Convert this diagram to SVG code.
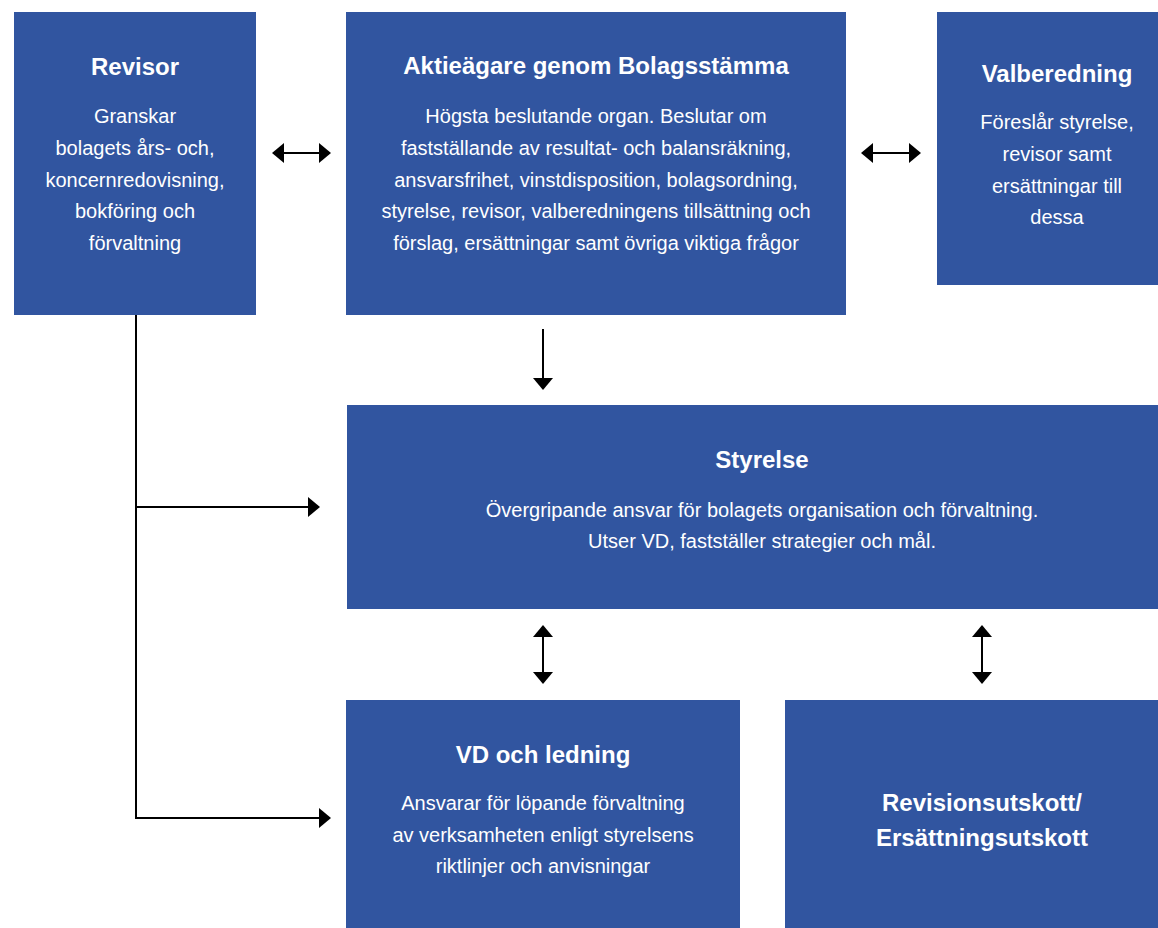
<svg xmlns="http://www.w3.org/2000/svg" width="1158" height="928" viewBox="0 0 1158 928">
<style>
.box{fill:#3155A0}
.t{font-family:"Liberation Sans",Arial,sans-serif;font-weight:bold;font-size:24px;fill:#fff;text-anchor:middle}
.b{font-family:"Liberation Sans",Arial,sans-serif;font-size:20px;fill:#fff;text-anchor:middle}
.c{stroke:#000;stroke-width:2;fill:none}
</style>
<defs>
<marker id="ah" markerUnits="userSpaceOnUse" markerWidth="12" markerHeight="20" refX="8" refY="10" orient="auto-start-reverse" viewBox="0 0 12 20">
<path d="M0,0 L12,10 L0,20 z" fill="#000"/>
</marker>
</defs>
<rect width="1158" height="928" fill="#fff"/>
<g id="revisor">
<rect class="box" x="14" y="12" width="242" height="303"/>
<text class="t" x="135" y="75">Revisor</text>
<text class="b" x="135" y="123">Granskar</text>
<text class="b" x="135" y="155">bolagets års- och,</text>
<text class="b" x="135" y="187">koncernredovisning,</text>
<text class="b" x="135" y="218">bokföring och</text>
<text class="b" x="135" y="250">förvaltning</text>
</g>
<g id="aktieagare">
<rect class="box" x="346" y="12" width="500" height="303"/>
<text class="t" x="596" y="74">Aktieägare genom Bolagsstämma</text>
<text class="b" x="596" y="123">Högsta beslutande organ. Beslutar om</text>
<text class="b" x="596" y="155">fastställande av resultat- och balansräkning,</text>
<text class="b" x="596" y="187">ansvarsfrihet, vinstdisposition, bolagsordning,</text>
<text class="b" x="596" y="218">styrelse, revisor, valberedningens tillsättning och</text>
<text class="b" x="596" y="250">förslag, ersättningar samt övriga viktiga frågor</text>
</g>
<g id="valberedning">
<rect class="box" x="937" y="12" width="221" height="273"/>
<text class="t" x="1057" y="82">Valberedning</text>
<text class="b" x="1057" y="129">Föreslår styrelse,</text>
<text class="b" x="1057" y="161">revisor samt</text>
<text class="b" x="1057" y="193">ersättningar till</text>
<text class="b" x="1057" y="224">dessa</text>
</g>
<g id="styrelse">
<rect class="box" x="347" y="405" width="811" height="204"/>
<text class="t" x="762" y="468">Styrelse</text>
<text class="b" x="762" y="517">Övergripande ansvar för bolagets organisation och förvaltning.</text>
<text class="b" x="762" y="548">Utser VD, fastställer strategier och mål.</text>
</g>
<g id="vd">
<rect class="box" x="346" y="700" width="394" height="228"/>
<text class="t" x="543" y="763">VD och ledning</text>
<text class="b" x="543" y="810">Ansvarar för löpande förvaltning</text>
<text class="b" x="543" y="842">av verksamheten enligt styrelsens</text>
<text class="b" x="543" y="873">riktlinjer och anvisningar</text>
</g>
<g id="utskott">
<rect class="box" x="785" y="700" width="373" height="228"/>
<text class="t" x="982" y="811">Revisionsutskott/</text>
<text class="t" x="982" y="846">Ersättningsutskott</text>
</g>
<g id="connectors">
<line class="c" x1="276" y1="153" x2="327" y2="153" marker-start="url(#ah)" marker-end="url(#ah)"/>
<line class="c" x1="865" y1="153" x2="917" y2="153" marker-start="url(#ah)" marker-end="url(#ah)"/>
<line class="c" x1="543" y1="329" x2="543" y2="386" marker-end="url(#ah)"/>
<polyline class="c" points="136,315 136,818 327,818" marker-end="url(#ah)"/>
<line class="c" x1="136" y1="507" x2="316" y2="507" marker-end="url(#ah)"/>
<line class="c" x1="543" y1="629" x2="543" y2="680" marker-start="url(#ah)" marker-end="url(#ah)"/>
<line class="c" x1="982" y1="629" x2="982" y2="680" marker-start="url(#ah)" marker-end="url(#ah)"/>
</g>
</svg>
